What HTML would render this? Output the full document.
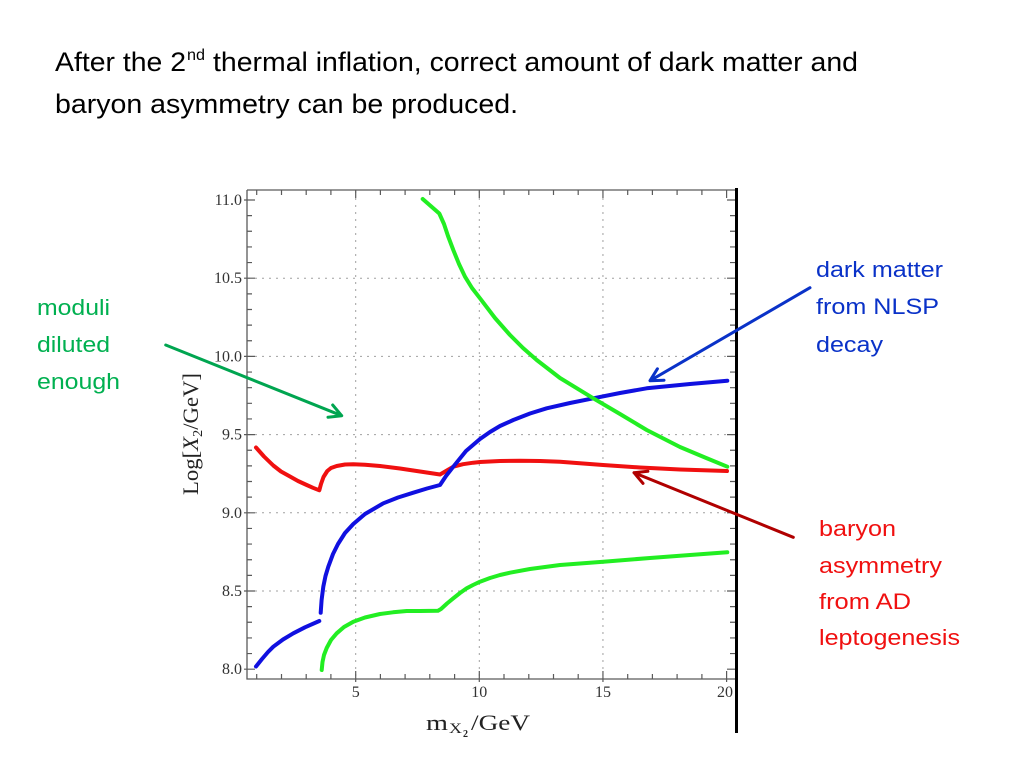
<!DOCTYPE html>
<html>
<head>
<meta charset="utf-8">
<style>
  html, body { margin: 0; padding: 0; background: #ffffff; }
  body { width: 1024px; height: 768px; overflow: hidden; position: relative; }
  svg { position: absolute; left: 0; top: 0; }
  .sans { font-family: "Liberation Sans", Arial, sans-serif; }
  .serif { font-family: "Liberation Serif", "Times New Roman", serif; }
</style>
</head>
<body>
<svg width="1024" height="768" viewBox="0 0 1024 768" xmlns="http://www.w3.org/2000/svg">
  <!-- Title -->
  <g class="sans" fill="#000" font-size="26.5">
    <text x="55" y="71" textLength="131" lengthAdjust="spacingAndGlyphs">After the 2</text>
    <text x="187" y="60" font-size="16" textLength="18" lengthAdjust="spacingAndGlyphs">nd</text>
    <text x="213" y="71" textLength="645" lengthAdjust="spacingAndGlyphs">thermal inflation, correct amount of dark matter and</text>
    <text x="55" y="113" textLength="463" lengthAdjust="spacingAndGlyphs">baryon asymmetry can be produced.</text>
  </g>

  <!-- Grid -->
  <g stroke="#a0a0a0" stroke-width="1" stroke-dasharray="2 5" fill="none">
    <path d="M355.7 191V678 M479.3 191V678 M602.95 191V678"/>
    <path d="M248 278.2H735 M248 356.4H735 M248 434.6H735 M248 512.8H735 M248 591H735"/>
  </g>

  <!-- Frame -->
  <g stroke="#5a5a5a" stroke-width="1.3" fill="none">
    <path d="M247 190V679H736 M247 190H736"/>
  </g>
  <path d="M736.5 188V733" stroke="#000" stroke-width="3"/>

  <!-- Ticks -->
  <g stroke="#5a5a5a" stroke-width="1.2" fill="none">
    <!-- left -->
    <path d="M247 215.64h5 M247 231.28h5 M247 246.92h5 M247 262.56h5 M247 293.84h5 M247 309.48h5 M247 325.12h5 M247 340.76h5 M247 372.04h5 M247 387.68h5 M247 403.32h5 M247 418.96h5 M247 450.24h5 M247 465.88h5 M247 481.52h5 M247 497.16h5 M247 528.44h5 M247 544.08h5 M247 559.72h5 M247 575.36h5 M247 606.64h5 M247 622.28h5 M247 637.92h5 M247 653.56h5"/>
    <path d="M244 200h11 M244 278.2h11 M244 356.4h11 M244 434.6h11 M244 512.8h11 M244 591h11 M244 669.2h11"/>
    <!-- right -->
    <path d="M735 215.64h-5 M735 231.28h-5 M735 246.92h-5 M735 262.56h-5 M735 293.84h-5 M735 309.48h-5 M735 325.12h-5 M735 340.76h-5 M735 372.04h-5 M735 387.68h-5 M735 403.32h-5 M735 418.96h-5 M735 450.24h-5 M735 465.88h-5 M735 481.52h-5 M735 497.16h-5 M735 528.44h-5 M735 544.08h-5 M735 559.72h-5 M735 575.36h-5 M735 606.64h-5 M735 622.28h-5 M735 637.92h-5 M735 653.56h-5"/>
    <path d="M735 200h-8 M735 278.2h-8 M735 356.4h-8 M735 434.6h-8 M735 512.8h-8 M735 591h-8 M735 669.2h-8"/>
    <!-- bottom -->
    <path d="M256.7 679v-5 M281.5 679v-5 M306.2 679v-5 M330.9 679v-5 M380.4 679v-5 M405.1 679v-5 M429.8 679v-5 M454.6 679v-5 M504 679v-5 M528.8 679v-5 M553.5 679v-5 M578.2 679v-5 M627.7 679v-5 M652.4 679v-5 M677.1 679v-5 M701.9 679v-5"/>
    <path d="M355.7 682v-11 M479.3 682v-11 M602.95 682v-11 M726.6 682v-11"/>
    <!-- top -->
    <path d="M256.7 190v5 M281.5 190v5 M306.2 190v5 M330.9 190v5 M380.4 190v5 M405.1 190v5 M429.8 190v5 M454.6 190v5 M504 190v5 M528.8 190v5 M553.5 190v5 M578.2 190v5 M627.7 190v5 M652.4 190v5 M677.1 190v5 M701.9 190v5"/>
    <path d="M355.7 190v8 M479.3 190v8 M602.95 190v8 M726.6 190v8"/>
  </g>

  <!-- Tick labels -->
  <g class="serif" fill="#333" font-size="16" text-anchor="end">
    <text x="242" y="205">11.0</text>
    <text x="242" y="283.2">10.5</text>
    <text x="242" y="361.4">10.0</text>
    <text x="242" y="439.6">9.5</text>
    <text x="242" y="517.8">9.0</text>
    <text x="242" y="596">8.5</text>
    <text x="242" y="674.2">8.0</text>
  </g>
  <g class="serif" fill="#333" font-size="16" text-anchor="middle">
    <text x="355.7" y="697">5</text>
    <text x="479.3" y="697">10</text>
    <text x="602.95" y="697">15</text>
    <text x="725" y="697">20</text>
  </g>

  <!-- Axis labels -->
  <g class="serif" fill="#222">
    <text x="426" y="730" font-size="22" textLength="22" lengthAdjust="spacingAndGlyphs">m</text>
    <text x="449" y="733" font-size="15" textLength="13" lengthAdjust="spacingAndGlyphs">X</text>
    <text x="463" y="737" font-size="10" font-weight="bold">2</text>
    <text x="471" y="730" font-size="22" textLength="59" lengthAdjust="spacingAndGlyphs">/GeV</text>
    <text transform="translate(198,495) rotate(-90)" font-size="22" textLength="122" lengthAdjust="spacingAndGlyphs">Log[<tspan font-style="italic">X</tspan><tspan font-size="14" dy="4">2</tspan><tspan dy="-4">/GeV]</tspan></text>
  </g>

  <!-- Curves -->
  <g fill="none" stroke-width="4" stroke-linejoin="round" stroke-linecap="round">
    <!-- red -->
    <polyline stroke="#f01010" points="256,447.5 264,456.5 273.3,465.5 281,471.5 290,476.5 298,481 306.7,485 313,487.8 319.3,490.3 321,484 323.5,477 327.3,471 331,468 336.7,466 345,464.5 353.3,464.3 365,464.8 380,466 400,468.5 420,471.5 440,474.5 446,471 453.3,466.7 463,464.2 473.3,462.7 480,462 500,461 520,460.7 540,461 560,461.8 603,465 640,467.5 680,469.5 727,471"/>
    <!-- blue -->
    <polyline stroke="#1010e0" points="256,666.5 262,659 268,652 273.3,646.7 283,639.5 293.3,633.3 305,627.3 319.3,621"/>
    <polyline stroke="#1010e0" points="320.7,612.7 321.6,600 323.3,586.7 325.5,576 328.3,566.7 333,554 338,544 345,533 353.3,524 365,514 383.3,503.3 398,497.5 413.3,492.7 427,488.5 440,485 446,476 453.3,466.7 466,451 480,439 490,432 500,426 513.3,420 530,413.5 546.7,408.3 570,403 593.3,398.3 620,393 646.7,388.3 690,384 727.3,380.7"/>
    <!-- green upper -->
    <polyline stroke="#22ee22" points="422.7,199 439.3,213.5 444,224 448,236 453.3,250 459,264 465,276.7 472,288 480,298.3 495,318 510,335 523,348 536.7,360 560,378 593.3,398.3 620,414 646.7,430 680,447 705,457.5 727.3,466.7"/>
    <!-- green lower -->
    <polyline stroke="#22ee22" points="321.7,670 322.5,662 324,655 326.7,648 331,640 336.7,633.3 344,627 353.3,621.7 365,617.5 380,614 393,612.3 406.7,611 420,611 438,610.7 441,609 447,603.5 453.3,598.3 460,593 466.7,588.3 473,585 480,581.7 490,578 500,575 510,572.7 530,569 560,565 603.3,561.7 650,558 690,555 727.3,552.3"/>
  </g>

  <!-- Arrows -->
  <g fill="none" stroke-width="3" stroke-linecap="round" stroke-linejoin="round">
    <path stroke="#00a550" d="M165.7 345L341.7 415.7 M332.7 405 L341.7 415.7 L328 417.2"/>
    <path stroke="#0a32c8" d="M810 287.7L650 380.7 M664 380.2 L650 380.7 L657.4 368.8"/>
    <path stroke="#b00000" d="M793.3 537.3L634 472.7 M643 483.4 L634 472.7 L647.9 471.3"/>
  </g>

  <!-- Annotations -->
  <g class="sans" font-size="22.5">
    <g fill="#00b050">
      <text x="37" y="315" textLength="73" lengthAdjust="spacingAndGlyphs">moduli</text>
      <text x="37" y="352" textLength="73" lengthAdjust="spacingAndGlyphs">diluted</text>
      <text x="37" y="389" textLength="83" lengthAdjust="spacingAndGlyphs">enough</text>
    </g>
    <g fill="#0a32c8">
      <text x="816" y="277" textLength="127" lengthAdjust="spacingAndGlyphs">dark matter</text>
      <text x="816" y="314" textLength="123" lengthAdjust="spacingAndGlyphs">from NLSP</text>
      <text x="816" y="352" textLength="67" lengthAdjust="spacingAndGlyphs">decay</text>
    </g>
    <g fill="#f01010">
      <text x="819" y="536" textLength="77" lengthAdjust="spacingAndGlyphs">baryon</text>
      <text x="819" y="573" textLength="123" lengthAdjust="spacingAndGlyphs">asymmetry</text>
      <text x="819" y="609" textLength="92" lengthAdjust="spacingAndGlyphs">from AD</text>
      <text x="819" y="645" textLength="141" lengthAdjust="spacingAndGlyphs">leptogenesis</text>
    </g>
  </g>
</svg>
</body>
</html>
